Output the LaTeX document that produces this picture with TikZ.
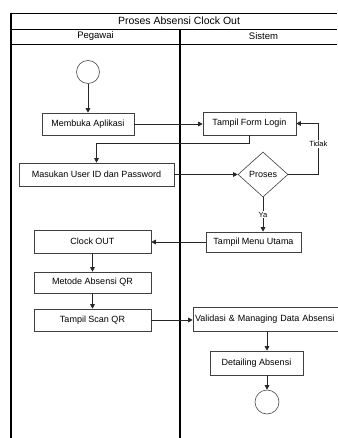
\documentclass[tikz,border=0pt]{standalone}
\usepackage{fontspec}
\setmainfont{Liberation Sans}
\usetikzlibrary{shapes.geometric,arrows.meta}
\begin{document}
\begin{tikzpicture}[x=1pt,y=-1pt,
  act/.style={draw=black!75, line width=0.6pt, rectangle, inner sep=0pt,
    font=\fontsize{9}{10}\selectfont},
  terminal/.style={draw=black!70, line width=0.6pt, circle, inner sep=0pt},
  flow/.style={draw=black!85, line width=0.6pt, -{Triangle[width=4.5pt,length=4.5pt]}},
  lane/.style={line width=1.4pt},
  rule/.style={line width=0.7pt},
  lbl/.style={fill=white, inner sep=1pt, font=\fontsize{7.5}{9}\selectfont}]
\useasboundingbox (0,0) rectangle (337,438);

% swimlane frame
\draw[rule] (11,13) -- (337,13);
\draw[rule] (11,29) -- (337,29);
\draw[rule] (11,44) -- (337,44);
\draw[lane] (11,13) -- (11,438);
\draw[lane] (180,29) -- (180,438);
\node[font=\fontsize{10.5}{12}\selectfont] (title) at (179,21) {Proses Absensi Clock Out};
\node[font=\fontsize{9.5}{11}\selectfont] (pegawai) at (95.5,36.5) {Pegawai};
\node[font=\fontsize{9.5}{11}\selectfont] (sistem) at (263.5,36.5) {Sistem};

% activities
\node[terminal, minimum size=23pt] (start) at (88,72) {};
\node[act, minimum width=92pt, minimum height=22pt] (membuka) at (88,124) {Membuka Aplikasi};
\node[act, minimum width=155pt, minimum height=23pt] (masukan) at (96.5,174.5) {Masukan User ID dan Password};
\node[act, minimum width=93pt, minimum height=23pt] (form) at (249.5,123.5) {Tampil Form Login};
\node[act, diamond, minimum width=50pt, minimum height=45pt] (proses) at (263,174.5) {Proses};
\node[act, minimum width=95pt, minimum height=20pt] (menu) at (253.5,242) {Tampil Menu Utama};
\node[act, minimum width=117pt, minimum height=23pt] (clock) at (92.5,241.5) {Clock OUT};
\node[act, minimum width=117pt, minimum height=21pt] (metode) at (92.5,282.5) {Metode Absensi QR};
\node[act, minimum width=117pt, minimum height=22pt] (scan) at (92.5,320) {Tampil Scan QR};
\node[act, minimum width=146pt, minimum height=24pt, text width=144pt, align=left, inner xsep=2pt] (validasi) at (267,319) {Validasi \& Managing Data Absensi};
\node[act, minimum width=93pt, minimum height=24pt] (detail) at (256.5,363) {Detailing Absensi};
\node[terminal, minimum size=24pt] (end) at (267,402) {};

% control flow
\draw[flow] (start) -- (membuka);
\draw[flow] (membuka.east) -- (form.west |- membuka.east);
\draw[flow] (form.south) -- ++(0,8) -| (masukan.north);
\draw[flow] (masukan.east) -- (proses.west);
\draw[flow] (proses.east) -- ++(30,0) |- node[lbl, pos=0.3] {Tidak} (form.east);
\draw[flow] (proses.south) -- node[lbl, pos=0.5] {Ya} (proses.south |- menu.north);
\draw[flow] (menu.west) -- (clock.east |- menu.west);
\draw[flow] (clock) -- (metode);
\draw[flow] (metode) -- (scan);
\draw[flow] (scan.east) -- (validasi.west |- scan.east);
\draw[flow] (validasi.south -| end) -- (end |- detail.north);
\draw[flow] (detail.south -| end) -- (end.north);
\end{tikzpicture}
\end{document}
